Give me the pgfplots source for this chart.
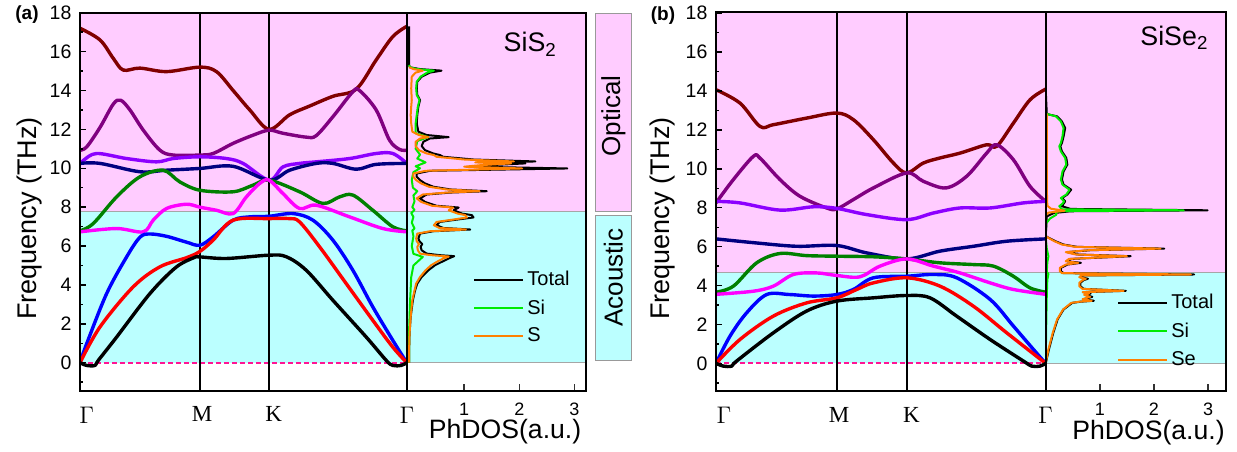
\documentclass[border=0pt]{standalone}
\usepackage{pgfplots}
\pgfplotsset{compat=1.18}
\usepackage{fontspec}
\setmainfont{Liberation Sans}
\newfontfamily\serif{Liberation Serif}
\newcommand\fs[1]{\fontsize{#1}{#1}\selectfont}

\definecolor{bgpink}{RGB}{255,204,255}
\definecolor{bgcyan}{RGB}{187,255,255}
\definecolor{dashpink}{RGB}{255,20,147}
\definecolor{bmaroon}{RGB}{128,0,0}
\definecolor{bpurple}{RGB}{128,0,128}
\definecolor{bviolet}{RGB}{140,0,255}
\definecolor{bnavy}{RGB}{0,0,128}
\definecolor{bgreen}{RGB}{0,128,0}
\definecolor{bmagenta}{RGB}{255,0,255}
\definecolor{dosgreen}{RGB}{0,235,0}
\definecolor{dosorange}{RGB}{255,128,0}

\pgfplotsset{
  every axis/.append style={/pgf/number format/assume math mode=true},
  band/.style={
    scale only axis, axis on top,
    xmin=0, xmax=2.732,
    axis line style={black, line width=0.9pt},
    ytick={0,2,...,18}, minor ytick={-1,1,...,17},
    tick align=inside, ytick pos=left,
    major tick length=2.8pt, minor tick length=1.6pt,
    tick style={black, line width=0.7pt},
    xtick style={draw=none},
    xticklabels={$\Gamma$,M,K,$\Gamma$},
    xticklabel style={font=\serif\fs{11.5}, yshift=-4.5pt},
    yticklabel style={font=\fs{9.75}, xshift=-0.75pt},
    ylabel={Frequency (THz)},
    ylabel style={font=\fs{13.5}, anchor=center},
  },
  bnd/.style={smooth, tension=0.55, line width=1.7pt, line join=round},
  vline/.style={black, line width=1pt, forget plot},
  dos/.style={
    scale only axis, axis on top,
    axis line style={black, line width=0.9pt},
    ytick=\empty, xtick={1,2,3}, xtick pos=bottom,
    tick align=inside, major tick length=3.5pt,
    tick style={black!80, line width=0.7pt},
    xticklabel style={font=\fs{9}, yshift=-2.6pt},
    xlabel={PhDOS(a.u.)},
    xlabel style={font=\fs{13.3}, anchor=center},
    legend style={draw=none, fill=none, anchor=north west, font=\fs{10},
      inner sep=0pt, row sep=2.5pt, nodes={inner sep=1.5pt}},
    legend cell align=left,
    legend image code/.code={\draw[#1] (0pt,0pt) -- (24.5pt,0pt);},
  },
  dl/.style={line width=1pt, line join=round},
}

\begin{document}
\begin{tikzpicture}
\useasboundingbox (0,0) rectangle (618.5pt,225.5pt);

% ---------------- (a) SiS2 : dispersion ----------------
\begin{axis}[band, at={(40pt,30.15pt)}, anchor=south west,
  width=163.65pt, height=189pt, ymin=-1.44, ymax=18,
  xtick={0.056,1.02,1.617,2.73},
  ylabel style={at={(axis description cs:-0.154,0.456)}}]
\fill[bgpink] (axis cs:0,7.77) rectangle (axis cs:2.732,18);
\fill[bgcyan] (axis cs:0,0) rectangle (axis cs:2.732,7.77);
\draw[gray!70, line width=0.5pt] (axis cs:0,7.77) -- (axis cs:2.732,7.77);
\addplot[dashpink, line width=1pt, dash pattern=on 2.5pt off 1.5pt, forget plot] coordinates {(0,0) (2.732,0)};
\addplot[vline] coordinates {(1,-1.44) (1,18)};
\addplot[vline] coordinates {(1.577,-1.44) (1.577,18)};
% optical branches
\addplot[bnd, bmaroon] coordinates {(0,17.2) (0.167,16.6) (0.278,15.65) (0.361,15.05) (0.5,15.15) (0.722,14.97) (1.0,15.2) (1.139,14.97) (1.278,14.0) (1.417,13.0) (1.578,12.0) (1.75,12.75) (1.917,13.2) (2.111,13.7) (2.306,14.07) (2.472,15.57) (2.611,16.77) (2.728,17.3)};
\addplot[bnd, bpurple] coordinates {(0,10.93) (0.056,11.1) (0.167,12.1) (0.278,13.3) (0.339,13.5) (0.417,13.0) (0.528,11.96) (0.667,10.93) (0.778,10.68) (1.0,10.68) (1.111,10.76) (1.278,11.28) (1.444,11.7) (1.578,11.96) (1.694,11.8) (1.889,11.6) (1.972,11.68) (2.111,12.65) (2.278,13.94) (2.333,14.0) (2.472,13.0) (2.583,11.45) (2.667,10.97) (2.728,10.93)};
\addplot[bnd, bviolet] coordinates {(0,10.2) (0.028,10.4) (0.139,10.76) (0.389,10.5) (0.639,10.33) (0.778,10.5) (1.0,10.59) (1.222,10.5) (1.361,10.25) (1.578,9.39) (1.694,10.07) (1.833,10.25) (1.972,10.33) (2.25,10.5) (2.472,10.76) (2.611,10.76) (2.728,10.25)};
\addplot[bnd, bnavy] coordinates {(0,10.25) (0.167,10.25) (0.5,9.82) (0.722,9.9) (1.0,9.99) (1.278,10.1) (1.578,9.39) (1.75,9.9) (1.972,10.25) (2.111,10.25) (2.306,9.95) (2.472,10.2) (2.728,10.25)};
\addplot[bnd, bgreen] coordinates {(0,6.78) (0.111,7.16) (0.306,8.53) (0.5,9.56) (0.694,9.9) (0.833,9.3) (1.0,8.87) (1.278,8.79) (1.444,9.13) (1.578,9.39) (1.833,8.79) (2.028,8.19) (2.167,8.53) (2.278,8.62) (2.444,7.84) (2.611,6.99) (2.728,6.78)};
\addplot[bnd, bmagenta] coordinates {(0,6.73) (0.306,6.9) (0.528,6.73) (0.611,7.33) (0.722,7.93) (0.889,8.15) (1.0,8.0) (1.139,7.84) (1.278,7.67) (1.389,8.53) (1.5,9.22) (1.578,9.39) (1.694,8.7) (1.833,7.93) (1.972,8.1) (2.25,7.5) (2.528,6.9) (2.728,6.73)};
% acoustic branches
\addplot[bnd, blue] coordinates {(0,0) (0.056,0.98) (0.222,3.55) (0.389,5.44) (0.5,6.45) (0.583,6.62) (0.722,6.5) (0.889,6.2) (1.0,6.04) (1.111,6.47) (1.278,7.33) (1.417,7.5) (1.578,7.53) (1.778,7.67) (1.944,7.33) (2.111,6.3) (2.278,4.75) (2.444,2.87) (2.611,1.15) (2.728,0)};
\addplot[bnd, red] coordinates {(0,0) (0.167,1.84) (0.444,3.9) (0.667,4.93) (0.889,5.4) (1.0,5.72) (1.111,6.3) (1.278,7.33) (1.578,7.41) (1.75,7.41) (1.833,7.24) (2.0,5.96) (2.222,4.07) (2.444,2.18) (2.611,0.8) (2.728,0)};
\addplot[bnd, black] coordinates {(0,0) (0.056,-0.14) (0.125,-0.14) (0.153,0.12) (0.306,1.32) (0.583,3.55) (0.8,4.9) (0.95,5.4) (1.0,5.44) (1.222,5.36) (1.578,5.53) (1.722,5.45) (1.889,4.75) (2.111,3.21) (2.389,1.32) (2.556,0.12) (2.611,-0.14) (2.681,-0.14) (2.728,0)};
\end{axis}

% ---------------- (a) SiS2 : phonon DOS ----------------
\begin{axis}[dos, at={(203.65pt,30.15pt)}, anchor=south west,
  width=89.2pt, height=189pt, xmin=-0.031, xmax=3.204, ymin=-1.44, ymax=18,
  legend style={at={(axis cs:1.16,4.89)}},
  xlabel style={at={(axis description cs:0.548,0)}, yshift=-20.6pt}]
\fill[bgpink] (axis cs:-0.031,7.77) rectangle (axis cs:3.204,18);
\fill[bgcyan] (axis cs:-0.031,0) rectangle (axis cs:3.204,7.77);
\draw[gray!70, line width=0.5pt] (axis cs:-0.031,7.77) -- (axis cs:3.204,7.77);
\draw[gray!70, line width=0.5pt] (axis cs:-0.031,0) -- (axis cs:3.204,0);
\addplot[dl, black] coordinates {(0,0) (0.0,0.46) (0.01,1.49) (0.03,2.35) (0.07,3.21) (0.11,3.72) (0.15,4.07) (0.23,4.41) (0.35,4.75) (0.47,5.01) (0.59,5.18) (0.72,5.36) (0.82,5.48) (0.56,5.53) (0.32,5.61) (0.23,5.78) (0.21,5.96) (0.24,6.1) (0.19,6.25) (0.17,6.39) (0.2,6.64) (0.44,6.76) (1.11,6.85) (0.62,6.93) (0.5,7.07) (0.56,7.24) (0.87,7.36) (1.17,7.47) (1.14,7.59) (0.96,7.67) (0.81,7.84) (0.9,7.98) (0.5,8.07) (0.29,8.27) (0.2,8.45) (0.32,8.65) (0.75,8.75) (1.41,8.82) (0.75,8.91) (0.44,9.05) (0.29,9.22) (0.2,9.39) (0.14,9.56) (0.14,9.73) (0.38,9.87) (2.87,9.99) (1.17,10.08) (1.47,10.16) (2.11,10.25) (1.5,10.3) (2.29,10.35) (1.17,10.45) (0.62,10.59) (0.56,10.68) (0.44,10.76) (0.29,10.93) (0.23,11.14) (0.26,11.36) (0.38,11.53) (0.72,11.6) (0.32,11.71) (0.17,11.88) (0.14,12.31) (0.15,12.74) (0.17,13.17) (0.2,13.51) (0.15,13.77) (0.14,14.11) (0.15,14.45) (0.23,14.71) (0.38,14.92) (0.59,15.02) (0.2,15.1) (0.02,15.19) (0,15.31) (0,17.3)};
\addlegendentry{Total}
\addplot[dl, dosgreen] coordinates {(0,0) (0.0,1.5) (0.02,3.2) (0.04,4.4) (0.08,5.0) (0.25,5.44) (0.08,5.6) (0.05,6.0) (0.08,6.5) (0.06,6.8) (0.1,6.9) (0.05,7.2) (0.08,7.5) (0.04,7.7) (0.1,7.85) (0.06,8.0) (0.1,8.3) (0.08,8.6) (0.15,8.82) (0.07,9.0) (0.05,9.4) (0.08,9.8) (0.2,10.0) (0.12,10.1) (0.3,10.3) (0.15,10.5) (0.2,10.7) (0.12,11.0) (0.15,11.4) (0.35,11.6) (0.12,11.8) (0.12,12.3) (0.14,12.74) (0.16,13.17) (0.19,13.51) (0.14,13.77) (0.13,14.11) (0.14,14.45) (0.21,14.71) (0.33,14.92) (0.45,15.02) (0.15,15.1) (0.02,15.19) (0,15.31)};
\addlegendentry{Si}
\addplot[dl, dosorange] coordinates {(0,0) (0.0,0.46) (0.01,1.49) (0.03,2.35) (0.06,3.21) (0.1,3.72) (0.13,4.07) (0.2,4.41) (0.3,4.75) (0.4,5.01) (0.5,5.18) (0.62,5.36) (0.72,5.46) (0.4,5.53) (0.2,5.61) (0.16,5.78) (0.15,5.96) (0.18,6.1) (0.14,6.25) (0.13,6.39) (0.15,6.64) (0.38,6.76) (1.03,6.85) (0.55,6.93) (0.45,7.07) (0.5,7.24) (0.8,7.36) (1.05,7.47) (1.02,7.59) (0.88,7.67) (0.72,7.84) (0.8,7.98) (0.42,8.07) (0.22,8.27) (0.14,8.45) (0.25,8.65) (0.68,8.75) (1.28,8.82) (0.68,8.91) (0.36,9.05) (0.22,9.22) (0.13,9.39) (0.08,9.56) (0.08,9.73) (0.3,9.87) (2.05,9.99) (1.0,10.08) (1.3,10.16) (1.85,10.25) (1.2,10.3) (1.9,10.35) (1.0,10.45) (0.5,10.59) (0.45,10.68) (0.32,10.76) (0.18,10.93) (0.12,11.14) (0.12,11.36) (0.2,11.53) (0.35,11.6) (0.18,11.71) (0.06,11.88) (0.04,12.31) (0.03,12.74) (0.04,13.17) (0.05,13.51) (0.04,14.11) (0.05,14.71) (0.12,14.92) (0.25,15.02) (0.08,15.1) (0,15.2)};
\addlegendentry{S}
\end{axis}

% ---------------- (b) SiSe2 : dispersion ----------------
\begin{axis}[band, at={(358pt,30pt)}, anchor=south west,
  width=164.85pt, height=189.65pt, ymin=-1.42, ymax=18.08,
  xtick={0.065,1.02,1.62,2.73},
  ylabel style={at={(axis description cs:-0.162,0.455)}}]
\fill[bgpink] (axis cs:0,4.66) rectangle (axis cs:2.732,18.08);
\fill[bgcyan] (axis cs:0,0) rectangle (axis cs:2.732,4.66);
\draw[gray!70, line width=0.5pt] (axis cs:0,4.66) -- (axis cs:2.732,4.66);
\addplot[dashpink, line width=1pt, dash pattern=on 2.5pt off 1.5pt, forget plot] coordinates {(0,0) (2.732,0)};
\addplot[vline] coordinates {(1,-1.42) (1,18.08)};
\addplot[vline] coordinates {(1.58,-1.42) (1.58,18.08)};
\addplot[bnd, bmaroon] coordinates {(0,14.07) (0.199,13.38) (0.365,12.18) (0.475,12.27) (0.751,12.61) (1.0,12.87) (1.138,12.53) (1.304,11.5) (1.47,10.3) (1.58,9.79) (1.718,10.3) (1.856,10.56) (2.022,10.81) (2.243,11.24) (2.326,11.16) (2.464,12.35) (2.602,13.55) (2.732,14.1)};
\addplot[bnd, bpurple] coordinates {(0,8.25) (0.144,9.45) (0.309,10.64) (0.365,10.55) (0.53,9.45) (0.696,8.59) (0.917,7.99) (1.0,7.94) (1.138,8.42) (1.304,9.02) (1.58,9.79) (1.718,9.36) (1.906,9.02) (2.077,9.62) (2.243,10.81) (2.326,11.24) (2.464,10.47) (2.602,9.1) (2.732,8.33)};
\addplot[bnd, bviolet] coordinates {(0,8.33) (0.199,8.25) (0.53,7.88) (0.807,8.05) (1.0,7.97) (1.249,7.65) (1.58,7.39) (1.801,7.73) (2.022,7.99) (2.271,7.99) (2.547,8.25) (2.732,8.33)};
\addplot[bnd, bnavy] coordinates {(0,6.4) (0.337,6.19) (0.669,6.02) (1.0,6.06) (1.249,5.68) (1.58,5.37) (1.856,5.77) (2.133,6.02) (2.409,6.28) (2.732,6.4)};
\addplot[bnd, bgreen] coordinates {(0,3.66) (0.144,3.97) (0.337,5.17) (0.53,5.65) (0.751,5.54) (1.0,5.51) (1.304,5.48) (1.58,5.37) (1.856,5.17) (2.133,5.08) (2.298,5.0) (2.464,4.48) (2.602,3.88) (2.732,3.66)};
\addplot[bnd, bmagenta] coordinates {(0,3.55) (0.309,3.71) (0.475,3.97) (0.641,4.57) (0.834,4.65) (1.0,4.52) (1.193,4.45) (1.359,5.0) (1.58,5.37) (1.801,5.0) (2.022,4.65) (2.271,4.14) (2.464,3.8) (2.732,3.55)};
\addplot[bnd, blue] coordinates {(0,0) (0.116,1.4) (0.254,2.6) (0.42,3.54) (0.608,3.54) (0.807,3.46) (1.0,3.54) (1.138,3.8) (1.304,4.4) (1.58,4.48) (1.801,4.57) (1.994,4.4) (2.271,3.29) (2.464,1.92) (2.63,0.72) (2.732,0)};
\addplot[bnd, red] coordinates {(0,0) (0.199,1.23) (0.475,2.43) (0.751,3.11) (1.0,3.37) (1.166,3.8) (1.304,4.14) (1.58,4.4) (1.856,3.97) (2.133,2.94) (2.409,1.57) (2.732,0)};
\addplot[bnd, black] coordinates {(0,0) (0.061,-0.14) (0.13,-0.14) (0.171,0.12) (0.475,1.57) (0.751,2.69) (1.0,3.2) (1.304,3.37) (1.58,3.49) (1.773,3.37) (1.994,2.43) (2.271,1.23) (2.547,0.12) (2.616,-0.14) (2.685,-0.14) (2.732,0)};
\end{axis}

% ---------------- (b) SiSe2 : phonon DOS ----------------
\begin{axis}[dos, at={(522.85pt,30pt)}, anchor=south west,
  width=90.15pt, height=189.65pt, xmin=0, xmax=3.33, ymin=-1.42, ymax=18.08,
  legend style={at={(axis cs:1.315,3.73)}},
  legend entries={Total,Si,Se},
  xlabel style={at={(axis description cs:0.57,0)}, yshift=-20.6pt}]
\fill[bgpink] (axis cs:0,4.66) rectangle (axis cs:3.33,18.08);
\fill[bgcyan] (axis cs:0,0) rectangle (axis cs:3.33,4.66);
\draw[gray!70, line width=0.5pt] (axis cs:0,4.66) -- (axis cs:3.33,4.66);
\draw[gray!70, line width=0.5pt] (axis cs:0,0) -- (axis cs:3.33,0);
\addplot[dl, black] coordinates {(0,0) (0.06,0.72) (0.14,1.57) (0.22,2.26) (0.33,2.77) (0.49,3.11) (0.64,3.17) (0.89,3.22) (0.7,3.3) (0.86,3.42) (0.73,3.52) (0.83,3.59) (0.7,3.66) (1.48,3.73) (0.7,3.83) (0.64,3.97) (0.64,4.14) (0.7,4.28) (0.78,4.35) (0.64,4.43) (0.67,4.52) (2.74,4.57) (0.33,4.64) (0.28,4.74) (0.28,4.91) (0.4,5.08) (0.65,5.17) (0.4,5.25) (0.46,5.37) (1.57,5.51) (0.58,5.6) (0.4,5.72) (0.83,5.82) (2.19,5.9) (0.58,5.99) (0.33,6.11) (0.18,6.28) (0.06,6.45) (0,6.54) (0.01,7.0) (0.02,7.56) (0.15,7.73) (0.46,7.82) (2.99,7.87) (0.46,7.94) (0.3,8.08) (0.33,8.21) (0.36,8.33) (0.3,8.5) (0.4,8.68) (0.47,8.93) (0.33,9.19) (0.3,9.45) (0.33,9.87) (0.4,10.22) (0.38,10.56) (0.3,10.9) (0.27,11.16) (0.3,11.33) (0.33,11.67) (0.36,12.1) (0.3,12.44) (0.21,12.7) (0.02,12.82) (0,14.07)};
\addplot[dl, dosgreen] coordinates {(0,0) (0.01,2) (0.02,3.5) (0.03,4.3) (0.05,4.6) (0.02,4.7) (0.03,5.2) (0.05,5.5) (0.02,5.9) (0.0,6.5) (0.01,7.2) (0.08,7.45) (0.2,7.65) (0.18,7.78) (0.3,7.83) (2.55,7.87) (0.3,7.92) (0.25,8.08) (0.31,8.21) (0.34,8.33) (0.28,8.5) (0.38,8.68) (0.44,8.93) (0.31,9.19) (0.28,9.45) (0.31,9.87) (0.38,10.22) (0.36,10.56) (0.28,10.9) (0.25,11.16) (0.28,11.33) (0.31,11.67) (0.33,12.1) (0.28,12.44) (0.19,12.7) (0.02,12.82) (0,12.9)};
\addplot[dl, dosorange] coordinates {(0,0) (0.05,0.72) (0.13,1.57) (0.21,2.26) (0.32,2.77) (0.47,3.11) (0.62,3.17) (0.85,3.22) (0.68,3.3) (0.82,3.42) (0.71,3.52) (0.8,3.59) (0.68,3.66) (1.44,3.73) (0.68,3.83) (0.62,3.97) (0.62,4.14) (0.68,4.28) (0.74,4.35) (0.62,4.43) (0.65,4.52) (2.68,4.57) (0.3,4.64) (0.26,4.74) (0.26,4.91) (0.37,5.08) (0.6,5.17) (0.37,5.25) (0.43,5.37) (1.5,5.51) (0.55,5.6) (0.37,5.72) (0.8,5.82) (2.12,5.9) (0.55,5.99) (0.3,6.11) (0.16,6.28) (0.05,6.45) (0,6.54) (0,7.6) (0.05,7.75) (0.35,7.85) (0.1,7.95) (0.03,8.1) (0.02,9) (0.02,12.8) (0,12.85)};
\end{axis}

% Optical / Acoustic markers beside panel (a)
\draw[gray!80, line width=0.5pt, fill=bgpink] (297.5pt,119.65pt) rectangle (315.85pt,218.85pt);
\draw[gray!80, line width=0.5pt, fill=bgcyan] (297.5pt,45.15pt) rectangle (315.85pt,118pt);
\node[rotate=90, font=\fs{13}] at (306.7pt,167.6pt) {Optical};
\node[rotate=90, font=\fs{13}] at (306.7pt,86.75pt) {Acoustic};

% compound names and panel letters
\node[anchor=base west, font=\fs{13.4}, inner sep=0pt] at (251.65pt,199.65pt) {SiS\textsubscript{2}};
\node[anchor=base west, font=\fs{13.4}, inner sep=0pt] at (570pt,203pt) {SiSe\textsubscript{2}};
\node[font=\bfseries\fs{9.5}] at (13.5pt,218pt) {(a)};
\node[font=\bfseries\fs{9.5}] at (331.5pt,217.5pt) {(b)};
\end{tikzpicture}
\end{document}
